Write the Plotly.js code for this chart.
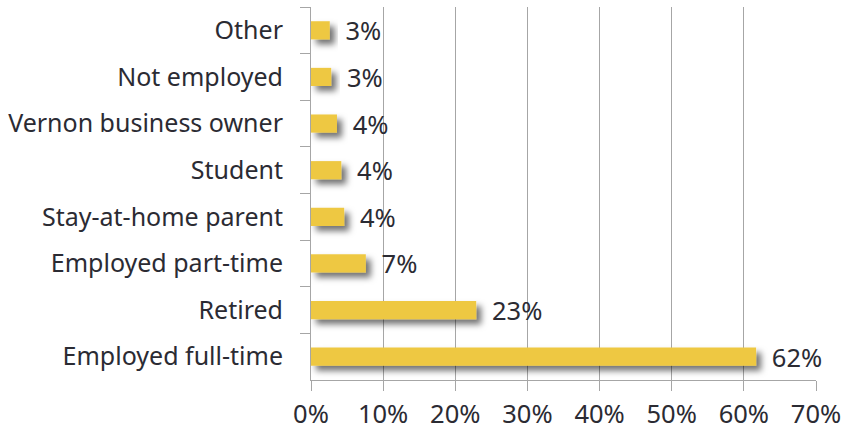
<!DOCTYPE html>
<html><head><meta charset="utf-8">
<script src="https://cdn.plot.ly/plotly-3.0.1.min.js"></script>
<style>
html,body{margin:0;padding:0;background:#fff;}
#chart{width:845px;height:436px;}
</style>
</head><body>
<div id="chart"></div>
<script>
var categories = ['Other','Not employed','Vernon business owner','Student','Stay-at-home parent','Employed part-time','Retired','Employed full-time'];
var values = [2.6, 2.8, 3.6, 4.2, 4.6, 7.6, 22.9, 61.7];
var labels = ['3%','3%','4%','4%','4%','7%','23%','62%'];
var tickVals = [0,10,20,30,40,50,60,70];
var tickText = ['0%','10%','20%','30%','40%','50%','60%','70%'];

var trace = {
  type:'bar', orientation:'h',
  x: values, y: categories,
  text: labels.map(function(s){return '\u2002'+s;}),
  textposition:'outside', cliponaxis:false, constraintext:'none',
  textfont:{family:'Noto Sans, Open Sans, sans-serif', size:25.5, color:'#2b2b33'},
  marker:{color:'#EEC843', line:{width:0}},
  hoverinfo:'none'
};
var layout = {
  width:845, height:436,
  margin:{l:311, r:29, t:7, b:56},
  paper_bgcolor:'#fff', plot_bgcolor:'#fff',
  showlegend:false, bargap:0.61,
  font:{family:'Noto Sans, Open Sans, sans-serif', color:'#333', size:20},
  xaxis:{range:[0,70], tickvals:tickVals, ticktext:tickText, showgrid:true, gridcolor:'#a6a6a6', gridwidth:1,
    showline:true, linecolor:'#a6a6a6', linewidth:1, ticks:'outside', ticklen:10, tickcolor:'#a6a6a6',
    tickfont:{size:25.5, color:'#2b2b33'}, ticklabelstandoff:1, zeroline:false, fixedrange:true},
  yaxis:{autorange:'reversed', type:'category', showline:true, linecolor:'#a6a6a6', linewidth:1,
    ticks:'outside', ticklen:10, tickcolor:'#a6a6a6', tickson:'boundaries', showgrid:false,
    tickfont:{size:25, color:'#2b2b33'}, ticklabelstandoff:22, fixedrange:true}
};
Plotly.newPlot('chart',[trace],layout,{displayModeBar:false, staticPlot:true}).then(function(gd){
  var svg = gd.querySelector('svg.main-svg');
  var ns = 'http://www.w3.org/2000/svg';
  var defs = svg.querySelector('defs') || svg.insertBefore(document.createElementNS(ns,'defs'), svg.firstChild);
  var f = document.createElementNS(ns,'filter');
  f.setAttribute('id','barshadow');
  f.setAttribute('x','-20%'); f.setAttribute('y','-60%');
  f.setAttribute('width','160%'); f.setAttribute('height','280%');
  var ds = document.createElementNS(ns,'feDropShadow');
  ds.setAttribute('dx','5'); ds.setAttribute('dy','5'); ds.setAttribute('stdDeviation','3');
  ds.setAttribute('flood-color','#000'); ds.setAttribute('flood-opacity','0.55');
  f.appendChild(ds); defs.appendChild(f);
  gd.querySelectorAll('.barlayer .point path').forEach(function(p){ p.setAttribute('filter','url(#barshadow)'); });
});
</script>
</body></html>
